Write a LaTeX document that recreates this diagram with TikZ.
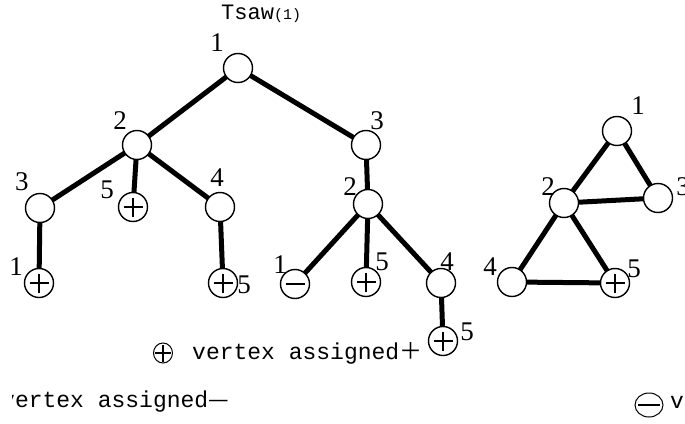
\documentclass[tikz,border=0pt]{standalone}
\usepackage{fontspec}
\usetikzlibrary{shapes.geometric,backgrounds}
\setmainfont{Liberation Serif}
\newfontfamily\monof{Liberation Mono}
\newfontfamily\cjk{Noto Sans CJK SC}
\begin{document}
\begin{tikzpicture}[x=1pt,y=-1pt,
  vtx/.style={circle, draw, line width=1.4pt, fill=white, minimum size=29pt, inner sep=0pt},
  edge/.style={line width=5pt},
  lbl/.style={font=\fontsize{27}{27}\selectfont, inner sep=0pt},
  armh/.style={line width=2.8pt},
  pl/.style={vtx, path picture={
     \draw[armh] ([xshift=-9.5pt]path picture bounding box.center) -- ([xshift=9.5pt]path picture bounding box.center);
     \draw[armh] ([yshift=-9.5pt]path picture bounding box.center) -- ([yshift=9.5pt]path picture bounding box.center);}},
  mn/.style={vtx, path picture={
     \draw[armh] ([xshift=-9.5pt]path picture bounding box.center) -- ([xshift=9.5pt]path picture bounding box.center);}},
  txt/.style={font=\monof\fontsize{23}{26}\selectfont, inner sep=0pt, anchor=west},
]
\useasboundingbox (0,0) rectangle (685,423);
\clip (0,0) rectangle (685,423);

% title
\node[inner sep=0pt, anchor=west] (title) at (221,14) {\monof\fontsize{22}{24}\selectfont Tsaw\fontsize{15}{24}\selectfont(1)};

% tree nodes
\node[vtx] (r1) at (238,68) {};
\node[vtx] (r2) at (137,145) {};
\node[vtx] (r3) at (366,145) {};
\node[vtx] (a3) at (40,208) {};
\node[pl]  (a5) at (133,207) {};
\node[vtx] (a4) at (220,207) {};
\node[pl]  (a1) at (39,283) {};
\node[pl]  (a45) at (223,283) {};
\node[vtx] (b2) at (368,204) {};
\node[mn]  (b1) at (295,284) {};
\node[pl]  (b5) at (366,282) {};
\node[vtx] (b4) at (441,283) {};
\node[pl]  (b45) at (443,341) {};

% triangle graph
\node[vtx] (t1) at (617,131) {};
\node[vtx] (t2) at (564,203) {};
\node[vtx] (t3) at (658,198) {};
\node[vtx] (t4) at (512,282) {};
\node[pl]  (t5) at (615,283) {};

% edges
\begin{scope}[on background layer]
\draw[edge] (r1.center) -- (r2.center);
\draw[edge] (r1.center) -- (r3.center);
\draw[edge] (r2.center) -- (a3.center);
\draw[edge] (r2.center) -- (a5.center);
\draw[edge] (r2.center) -- (a4.center);
\draw[edge] (a3.center) -- (a1.center);
\draw[edge] (a4.center) -- (a45.center);
\draw[edge] (r3.center) -- (b2.center);
\draw[edge] (b2.center) -- (b1.center);
\draw[edge] (b2.center) -- (b5.center);
\draw[edge] (b2.center) -- (b4.center);
\draw[edge] (b4.center) -- (b45.center);
\draw[edge] (t1.center) -- (t2.center);
\draw[edge] (t1.center) -- (t3.center);
\draw[edge] (t2.center) -- (t3.center);
\draw[edge] (t2.center) -- (t4.center);
\draw[edge] (t2.center) -- (t5.center);
\draw[edge] (t4.center) -- (t5.center);
\end{scope}

% labels
\node[lbl] (l1) at (217,43) {1};
\node[lbl] (l2) at (120,121) {2};
\node[lbl] (l3) at (377,121) {3};
\node[lbl] (l4) at (22,182) {3};
\node[lbl] (l5) at (107,190) {5};
\node[lbl] (l6) at (217,178) {4};
\node[lbl] (l7) at (16,267) {1};
\node[lbl] (l8) at (244,285) {5};
\node[lbl] (l9) at (350,187) {2};
\node[lbl] (l10) at (280,265) {1};
\node[lbl] (l11) at (382,262) {5};
\node[lbl] (l12) at (447,262) {4};
\node[lbl] (l13) at (467,332) {5};
\node[lbl] (l14) at (638,106) {1};
\node[lbl] (l15) at (548,187) {2};
\node[lbl] (l16) at (683,187) {3};
\node[lbl] (l17) at (490,267) {4};
\node[lbl] (l18) at (634,269) {5};

% legend
\node[ellipse, draw, line width=1pt, minimum width=19pt, minimum height=20pt, inner sep=0pt,
  path picture={
     \draw[line width=1.6pt] ([xshift=-8pt]path picture bounding box.center) -- ([xshift=8pt]path picture bounding box.center);
     \draw[line width=1.6pt] ([yshift=-8.5pt]path picture bounding box.center) -- ([yshift=8.5pt]path picture bounding box.center);}]
  (lgp) at (163,353) {};
\node[txt] (lgt) at (192,353) {vertex assigned{\cjk ＋}};

\begin{scope}
\clip (12,380) rectangle (300,423);
\node[txt] (lgm) at (1,402) {vertex assigned{\cjk —}};
\end{scope}

\node[ellipse, draw, line width=1pt, minimum width=28pt, minimum height=24pt, inner sep=0pt,
  path picture={
     \draw[line width=1.8pt] ([xshift=-11pt]path picture bounding box.center) -- ([xshift=11pt]path picture bounding box.center);}]
  (lgn) at (649,405) {};
\node[txt] (lgt2) at (670,403) {vertex assigned{\cjk —}};
\end{tikzpicture}
\end{document}
